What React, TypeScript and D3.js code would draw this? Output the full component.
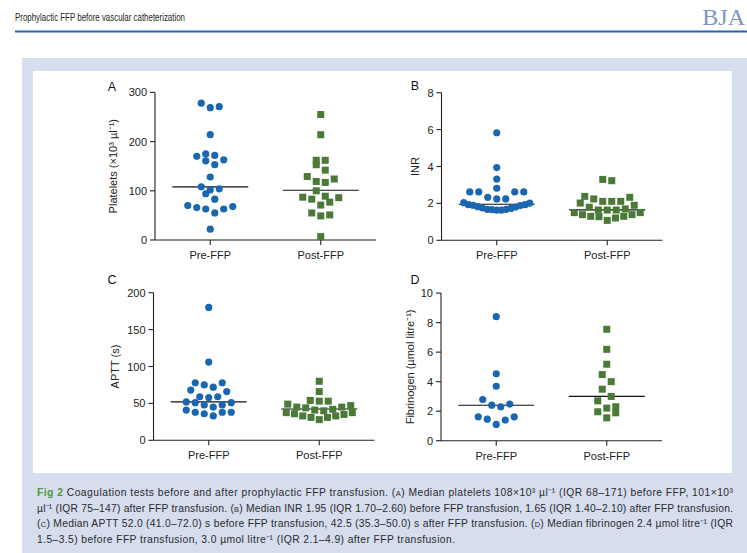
import React from "react";
import * as d3 from "d3";

// ---------- data ----------
const categories = ["Pre-FFP", "Post-FFP"];

const plateletsPre = [278, 269, 271, 214, 170, 175, 172, 161, 153, 163, 128, 104, 102, 108, 94, 83, 70, 66, 63, 63, 68, 55, 22];
const plateletsPost = [255, 214, 162, 153, 162, 142, 117, 124, 129, 119, 100, 87, 83, 71, 77, 86, 89, 51, 49, 55, 7];
const plateletMedians = [108, 101];

const inrPre = [5.83, 3.94, 3.32, 2.82, 2.62, 2.62, 2.62, 2.62, 2.24, 2.24, 2.33, 2.04, 1.93, 1.9, 1.82, 1.75, 1.68, 1.66, 1.64, 1.64, 1.68, 1.73, 1.8, 1.88, 1.93, 2.02];
const inrPost = [3.3, 3.23, 2.33, 2.38, 2.11, 2.11, 2.11, 2.24, 1.9, 2.02, 1.7, 1.64, 1.64, 1.64, 1.79, 1.5, 1.5, 1.39, 1.39, 1.3, 1.28, 1.3, 1.08, 1.21];
const inrMedians = [1.95, 1.65];

const apttPre = [180, 106, 78, 78, 72, 75, 66, 68, 59, 58, 59, 51, 48, 48, 51, 52, 45, 41, 38, 38, 38, 36, 33];
const apttPost = [80, 66, 54, 53, 53, 47, 49, 45, 45, 44, 42, 41, 37.5, 40, 37.5, 35, 36, 33, 33, 31, 31, 28];
const apttMedians = [52.0, 42.5];

const fibPre = [8.4, 4.53, 3.69, 2.79, 2.41, 2.3, 2.48, 1.62, 1.46, 1.62, 1.4, 1.1];
const fibPost = [7.55, 6.19, 5.18, 4.48, 4.0, 3.49, 3.0, 2.7, 2.3, 2.21, 1.96, 1.89, 1.55];
const fibMedians = [2.4, 3.0];

const plateletTicks = [0, 100, 200, 300];
const inrTicks = [0, 2, 4, 6, 8];
const apttTicks = [0, 50, 100, 150, 200];
const fibTicks = [0, 2, 4, 6, 8, 10];

// ---------- layout ----------
const BLUE = "#1b66b1";
const GREEN = "#4a7a36";
const FONT = "'Liberation Sans', Arial, Helvetica, sans-serif";

type Panel = {
  letter: string;
  title: string;
  pre: number[];
  post: number[];
  medians: number[];
  ticks: number[];
  axisX: number;
  axisY: number;
  letterPos: [number, number];
  titleX: number;
};

const panels: Panel[] = [
  { letter: "A", title: "Platelets (×10³ µl⁻¹)", pre: plateletsPre, post: plateletsPost, medians: plateletMedians, ticks: plateletTicks, axisX: 155, axisY: 240, letterPos: [112, 91], titleX: 113 },
  { letter: "B", title: "INR", pre: inrPre, post: inrPost, medians: inrMedians, ticks: inrTicks, axisX: 441.5, axisY: 240.3, letterPos: [415, 90], titleX: 415 },
  { letter: "C", title: "APTT (s)", pre: apttPre, post: apttPost, medians: apttMedians, ticks: apttTicks, axisX: 153.5, axisY: 440.3, letterPos: [112, 284], titleX: 115 },
  { letter: "D", title: "Fibrinogen (µmol litre⁻¹)", pre: fibPre, post: fibPost, medians: fibMedians, ticks: fibTicks, axisX: 441, axisY: 440.7, letterPos: [415, 284], titleX: 410 },
];

const AXIS_W = 221;
const AXIS_H = 147.6;

// Prism-like row scatter: group nearby values into rows, spread center-out.
function swarm(values: number[], y: (v: number) => number, cx: number) {
  const ROW_H = 8.5;
  const MAX_SP = 9;
  const MAX_W = 66;
  const sorted = values.map((v, i) => ({ v, i })).sort((a, b) => a.v - b.v);
  const rows: { v: number; i: number }[][] = [];
  for (const p of sorted) {
    const row = rows[rows.length - 1];
    if (row && y(row[0].v) - y(p.v) <= ROW_H) row.push(p);
    else rows.push([p]);
  }
  const out: { x: number; y: number; v: number }[] = [];
  for (const row of rows) {
    const n = row.length;
    const sp = n > 1 ? Math.min(MAX_SP, MAX_W / (n - 1)) : 0;
    const slots: number[] = [];
    if (n % 2 === 1) {
      slots.push(0);
      for (let k = 1; slots.length < n; k++) {
        slots.push(k);
        if (slots.length < n) slots.push(-k);
      }
    } else {
      for (let k = 0.5; slots.length < n; k++) {
        slots.push(k);
        if (slots.length < n) slots.push(-k);
      }
    }
    row.forEach((p, j) => out.push({ x: cx + slots[j] * sp, y: y(p.v), v: p.v }));
  }
  return out;
}

function PanelView({ p }: { p: Panel }) {
  const ymax = p.ticks[p.ticks.length - 1];
  const yScale = d3.scaleLinear().domain([0, ymax]).range([p.axisY, p.axisY - AXIS_H]);
  const xScale = d3.scalePoint<string>().domain(categories).range([p.axisX, p.axisX + AXIS_W]).padding(0.5);
  const preX = xScale(categories[0])!;
  const postX = xScale(categories[1])!;
  const prePts = swarm(p.pre, yScale, preX);
  const postPts = swarm(p.post, yScale, postX);
  const axisColor = "#222";
  const midY = (yScale(0) + yScale(ymax)) / 2;
  return (
    <g fontFamily={FONT}>
      <text x={p.letterPos[0]} y={p.letterPos[1]} fontSize={12.5} fill="#111" textAnchor="middle">{p.letter}</text>
      <text
        transform={`translate(${p.titleX},${midY}) rotate(-90)`}
        textAnchor="middle"
        dominantBaseline="central"
        fontSize={11}
        fill="#222"
      >
        {p.title}
      </text>
      {/* y axis */}
      <line x1={p.axisX} x2={p.axisX} y1={yScale(0)} y2={yScale(ymax)} stroke={axisColor} strokeWidth={1.1} />
      {p.ticks.map((t) => (
        <g key={t}>
          <line x1={p.axisX - 5} x2={p.axisX} y1={yScale(t)} y2={yScale(t)} stroke={axisColor} strokeWidth={1.1} />
          <text x={p.axisX - 8} y={yScale(t)} textAnchor="end" dominantBaseline="central" fontSize={11} fill="#222">
            {t}
          </text>
        </g>
      ))}
      {/* x axis */}
      <line x1={p.axisX} x2={p.axisX + AXIS_W} y1={p.axisY} y2={p.axisY} stroke={axisColor} strokeWidth={1.1} />
      {categories.map((c) => (
        <g key={c}>
          <line x1={xScale(c)!} x2={xScale(c)!} y1={p.axisY} y2={p.axisY + 5} stroke={axisColor} strokeWidth={1.1} />
          <text x={xScale(c)!} y={p.axisY + 15} textAnchor="middle" dominantBaseline="central" fontSize={11} fill="#222">
            {c}
          </text>
        </g>
      ))}
      {/* medians */}
      {[preX, postX].map((cx, i) => (
        <line key={i} x1={cx - 38} x2={cx + 38} y1={yScale(p.medians[i])} y2={yScale(p.medians[i])} stroke="#111" strokeWidth={1.1} />
      ))}
      {prePts.map((d, i) => (
        <circle key={"a" + i} cx={d.x} cy={d.y} r={3.6} fill={BLUE} />
      ))}
      {postPts.map((d, i) => (
        <rect key={"b" + i} x={d.x - 3.5} y={d.y - 3.5} width={7} height={7} fill={GREEN} />
      ))}
    </g>
  );
}

const small = (s: string) => <tspan fontSize={7.5}>{s}</tspan>;

export default function App() {
  return (
    <svg width={747} height={553} style={{ position: "absolute", left: 0, top: 0, background: "#fff" }}>
      <rect x={0} y={0} width={747} height={553} fill="#fff" />
      {/* header */}
      <text x={15} y={21} fontFamily={FONT} fontSize={11} fill="#222" textLength={170} lengthAdjust="spacingAndGlyphs">
        Prophylactic FFP before vascular catheterization
      </text>
      <text x={745} y={25} fontFamily="'Liberation Serif', 'DejaVu Serif', serif" fontSize={24} fill="#7c94c8" textAnchor="end">
        BJA
      </text>
      <line x1={15} x2={747} y1={31.5} y2={31.5} stroke="#2b62ab" strokeWidth={1.8} />
      {/* figure box */}
      <rect x={22} y={58} width={725} height={495} fill="#d5ddef" />
      <rect x={33} y={71} width={699} height={402} fill="#fff" />
      {panels.map((p) => (
        <PanelView key={p.letter} p={p} />
      ))}
      {/* caption */}
      <g fontFamily={FONT} fontSize={10.3} fill="#2b2b2b">
        <text x={37} y={496} textLength={696} lengthAdjust="spacing">
          <tspan fill="#4f9a3a" fontWeight="bold">Fig 2</tspan>
          {" Coagulation tests before and after prophylactic FFP transfusion. ("}
          {small("A")}
          {") Median platelets 108×10³ µl⁻¹ (IQR 68–171) before FFP, 101×10³"}
        </text>
        <text x={37} y={511.5} textLength={696} lengthAdjust="spacing">
          {"µl⁻¹ (IQR 75–147) after FFP transfusion. ("}
          {small("B")}
          {") Median INR 1.95 (IQR 1.70–2.60) before FFP transfusion, 1.65 (IQR 1.40–2.10) after FFP transfusion."}
        </text>
        <text x={37} y={527} textLength={696} lengthAdjust="spacing">
          {"("}
          {small("C")}
          {") Median APTT 52.0 (41.0–72.0) s before FFP transfusion, 42.5 (35.3–50.0) s after FFP transfusion. ("}
          {small("D")}
          {") Median fibrinogen 2.4 µmol litre⁻¹ (IQR"}
        </text>
        <text x={37} y={542.5} textLength={418} lengthAdjust="spacing">
          {"1.5–3.5) before FFP transfusion, 3.0 µmol litre⁻¹ (IQR 2.1–4.9) after FFP transfusion."}
        </text>
      </g>
    </svg>
  );
}
